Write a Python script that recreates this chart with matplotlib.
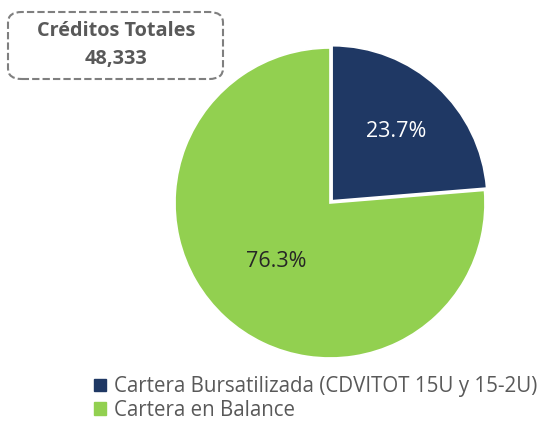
import matplotlib.pyplot as plt
import numpy as np
from matplotlib.patches import FancyBboxPatch

plt.rcParams['font.family'] = ['Open Sans', 'DejaVu Sans']

# data
labels = ['Cartera Bursatilizada (CDVITOT 15U y 15-2U)', 'Cartera en Balance']
shares = [23.7, 76.3]
colors = ['#1F3864', '#92D050']
label_colors = ['white', '#262626']
label_dist = [0.61, 0.51]
title_lines = ['Créditos Totales', '48,333']

fig = plt.figure(figsize=(5.49, 4.21), dpi=100)

# pie axes: centre ~(330, 203) px, radius ~155 px
ax = fig.add_axes([(330 - 155) / 549, (421 - 203 - 155) / 421, 310 / 549, 310 / 421])
wedges, _ = ax.pie(shares, colors=colors, startangle=90, counterclock=False,
                   explode=[0.02, 0], radius=1.0,
                   wedgeprops=dict(edgecolor='white', linewidth=1.2))
ax.set_xlim(-1, 1)
ax.set_ylim(-1, 1)
ax.set_aspect('auto')
ax.axis('off')
for w in wedges:
    w.set_clip_on(False)

for w, s, d, c in zip(wedges, shares, label_dist, label_colors):
    ang = np.deg2rad((w.theta1 + w.theta2) / 2)
    cx, cy = w.center
    ax.text(cx + d * np.cos(ang), cy + d * np.sin(ang), f'{s:.1f}%',
            ha='center', va='center', fontsize=15.5, color=c)

# title box
box = FancyBboxPatch((8 / 549, 1 - 79 / 421), 215 / 549, 67 / 421,
                     boxstyle='round,pad=0,rounding_size=0.025',
                     transform=fig.transFigure, facecolor='white',
                     edgecolor='#7F7F7F', linewidth=1.5, linestyle=(0, (3.5, 1.5)))
fig.patches.append(box)
fig.text(116 / 549, 1 - 31 / 421, title_lines[0], ha='center', va='center',
         fontsize=14.3, fontweight='bold', color='#595959')
fig.text(116 / 549, 1 - 59 / 421, title_lines[1], ha='center', va='center',
         fontsize=14.3, fontweight='bold', color='#595959')

# legend
handles = [plt.Rectangle((0, 0), 1, 1, color=c) for c in colors]
fig.legend(handles, labels, loc='upper left', bbox_to_anchor=(84 / 549, 1 - 366 / 421),
           frameon=False, fontsize=14.8, labelcolor='#595959',
           handlelength=0.55, handleheight=0.55, handletextpad=0.4,
           labelspacing=0.12, borderpad=0)

fig.savefig('out.png', dpi=100)
